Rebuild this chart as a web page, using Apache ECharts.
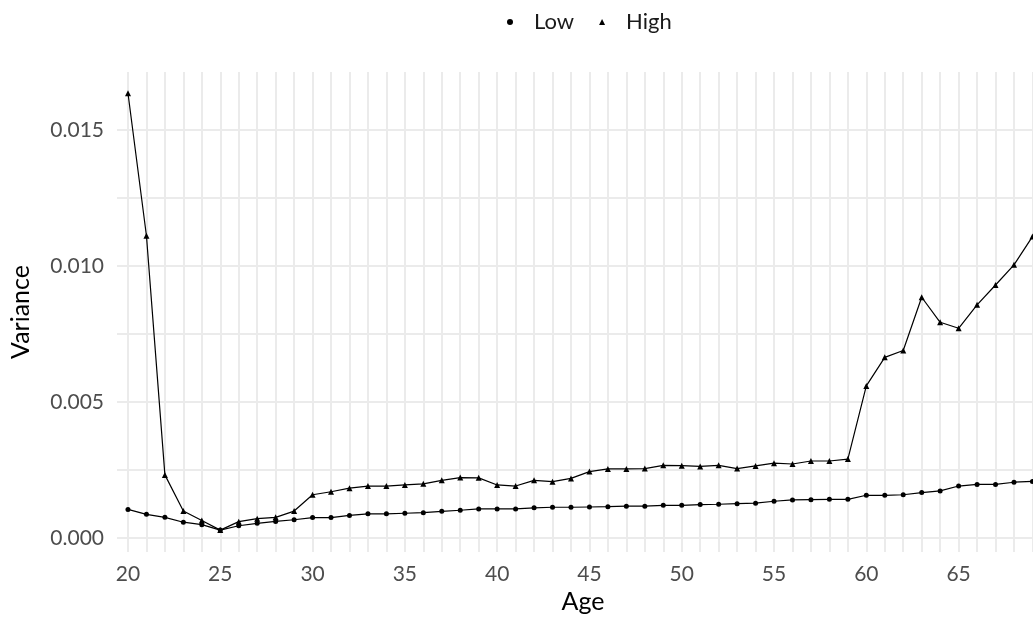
<!DOCTYPE html>
<html>
<head>
<meta charset="utf-8">
<script src="https://cdn.jsdelivr.net/npm/echarts@6/dist/echarts.min.js"></script>
<style>
  html, body { margin: 0; padding: 0; background: #fff; }
  #chart { width: 1033px; height: 625px; }
</style>
</head>
<body>
<div id="chart"></div>
<script>
const ages = [20,21,22,23,24,25,26,27,28,29,30,31,32,33,34,35,36,37,38,39,40,41,42,43,44,45,46,47,48,49,50,51,52,53,54,55,56,57,58,59,60,61,62,63,64,65,66,67,68,69];
const lowValues = [0.00105,0.00087,0.00076,0.00058,0.00049,0.00029,0.00045,0.00054,0.00061,0.00067,0.00075,0.00075,0.00083,0.00089,0.00089,0.00091,0.00093,0.00098,0.00102,0.00107,0.00107,0.00107,0.00111,0.00113,0.00113,0.00114,0.00115,0.00117,0.00117,0.00120,0.00120,0.00123,0.00124,0.00126,0.00128,0.00135,0.00140,0.00141,0.00142,0.00142,0.00157,0.00157,0.00159,0.00167,0.00173,0.00191,0.00197,0.00197,0.00205,0.00208];
const highValues = [0.01635,0.01111,0.00232,0.00099,0.00064,0.00029,0.00060,0.00071,0.00076,0.00099,0.00159,0.00170,0.00183,0.00191,0.00191,0.00195,0.00199,0.00212,0.00222,0.00221,0.00195,0.00191,0.00212,0.00207,0.00219,0.00244,0.00254,0.00254,0.00255,0.00267,0.00266,0.00263,0.00267,0.00255,0.00265,0.00275,0.00272,0.00283,0.00283,0.00290,0.00559,0.00664,0.00689,0.00885,0.00793,0.00771,0.00857,0.00930,0.01004,0.01108];
const xTickLabels = [20,25,30,35,40,45,50,55,60,65];
const xGridValues = ages.slice();
const yTickLabels = [0,0.005,0.010,0.015];
const yGridValues = [0,0.0025,0.005,0.0075,0.010,0.0125,0.015];

const FONT = 'Lato, "DejaVu Sans Condensed", sans-serif';
const chart = echarts.init(document.getElementById('chart'), null, {renderer: 'canvas'});
chart.setOption({
  animation: false,
  backgroundColor: '#ffffff',
  legend: {
    left: 502, top: 6,
    itemWidth: 6, itemHeight: 6, itemGap: 25,
    textStyle: { fontFamily: FONT, fontSize: 22, color: '#1a1a1a', padding: [0,0,0,16] },
    data: [{name: 'Low', icon: 'circle'}, {name: 'High', icon: 'triangle'}]
  },
  grid: { left: 115, right: 0, top: 72, bottom: 73, containLabel: false },
  xAxis: {
    type: 'value', min: 19.405, max: 69.03,
    name: 'Age', nameLocation: 'middle', nameGap: 32,
    nameTextStyle: { fontFamily: FONT, fontSize: 25, color: '#000', padding: [0,0,0,16] },
    axisLine: { show: false },
    axisTick: { show: false, customValues: xGridValues },
    axisLabel: { customValues: xTickLabels, fontFamily: FONT, fontSize: 21, color: '#4d4d4d', margin: 12 },
    splitLine: { show: true, lineStyle: { color: '#ebebeb', width: 2 } }
  },
  yAxis: {
    type: 'value', min: -0.000515, max: 0.01713,
    name: 'Variance', nameLocation: 'middle', nameGap: 84,
    nameTextStyle: { fontFamily: FONT, fontSize: 25, color: '#000' },
    axisLine: { show: false },
    axisTick: { show: false, customValues: yGridValues },
    axisLabel: { customValues: yTickLabels, fontFamily: FONT, fontSize: 21, color: '#4d4d4d', margin: 13,
      formatter: v => v.toFixed(3) },
    splitLine: { show: true, lineStyle: { color: '#ebebeb', width: 2 } }
  },
  series: [
    { name: 'Low', type: 'line', data: ages.map((a,i)=>[a, lowValues[i]]),
      symbol: 'circle', symbolSize: 5, itemStyle: {color: '#000'},
      lineStyle: {color: '#000', width: 1.2}, clip: true },
    { name: 'High', type: 'line', data: ages.map((a,i)=>[a, highValues[i]]),
      symbol: 'triangle', symbolSize: 6, itemStyle: {color: '#000'},
      lineStyle: {color: '#000', width: 1.2}, clip: true }
  ]
});
</script>
</body>
</html>
